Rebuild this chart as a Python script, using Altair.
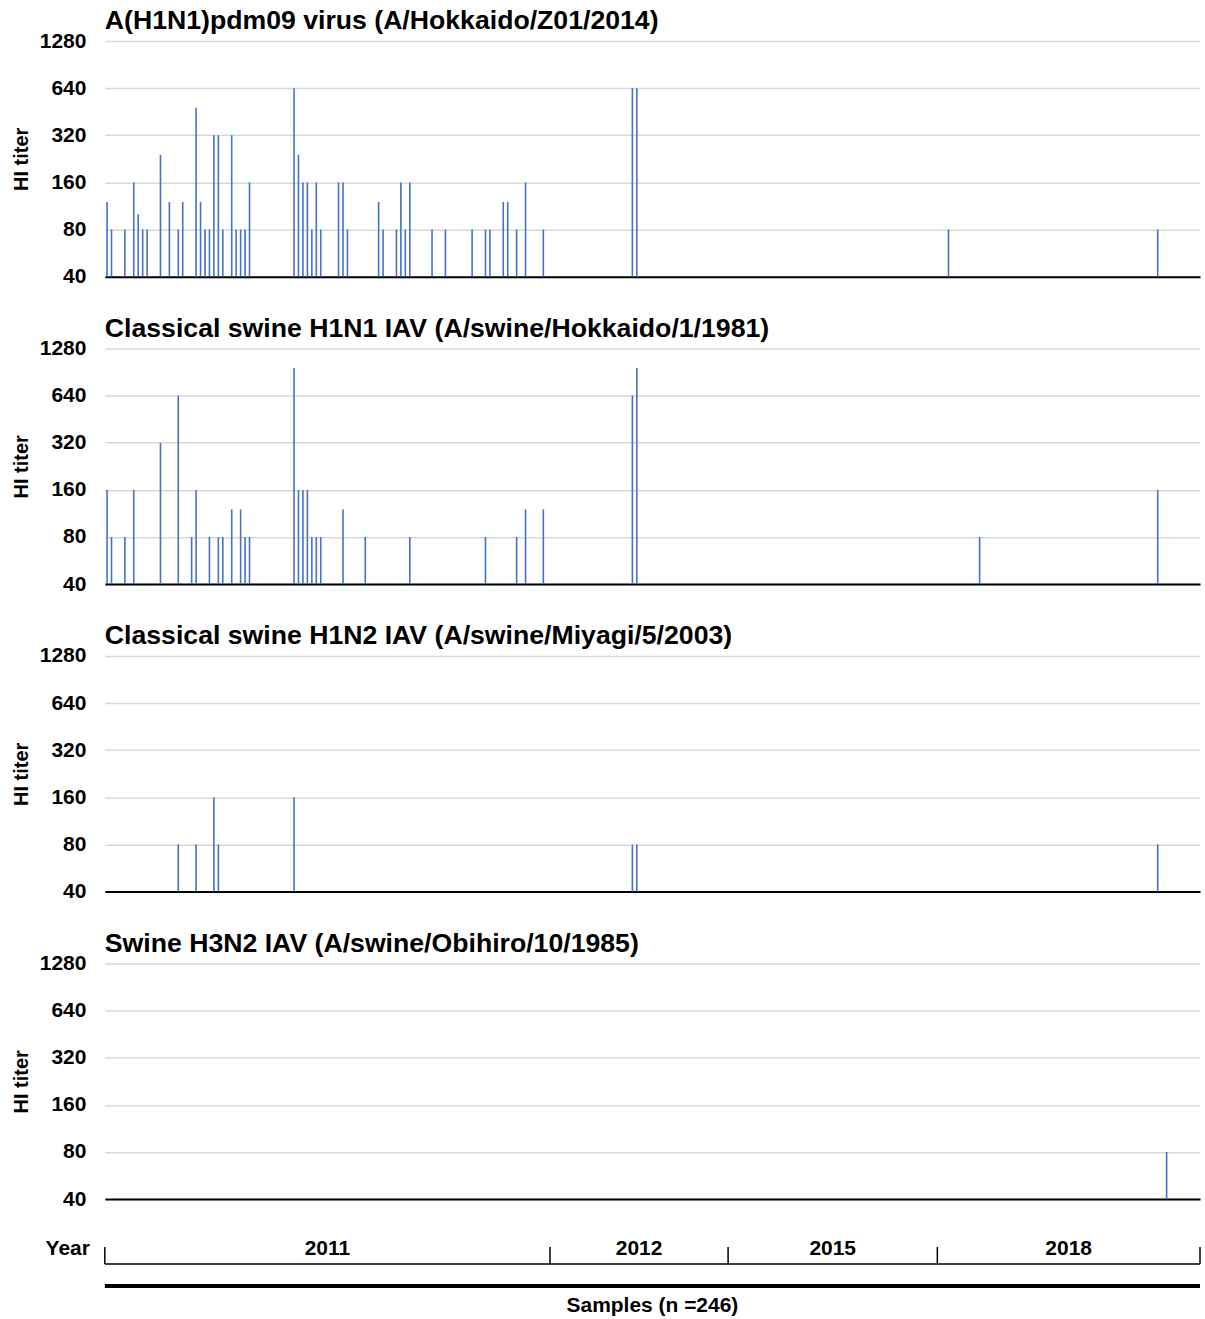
import altair as alt
import pandas as pd

N = 246
FONT = "Liberation Sans"
BLUE = "#4472C4"

titer_ticks = [40, 80, 160, 320, 640, 1280]

panel_titles = [
    "A(H1N1)pdm09 virus (A/Hokkaido/Z01/2014)",
    "Classical swine H1N1 IAV (A/swine/Hokkaido/1/1981)",
    "Classical swine H1N2 IAV (A/swine/Miyagi/5/2003)",
    "Swine H3N2 IAV (A/swine/Obihiro/10/1985)",
]

p1_samples = [1, 2, 5, 7, 8, 9, 10, 13, 15, 17, 18, 21, 22, 23, 24, 25, 26, 27, 29, 30,
              31, 32, 33, 43, 44, 45, 46, 47, 48, 49, 53, 54, 55, 62, 63, 66, 67, 68, 69,
              74, 77, 83, 86, 87, 90, 91, 93, 95, 99, 119, 120, 190, 237]
p1_titers = [120, 80, 80, 160, 100, 80, 80, 240, 120, 80, 120, 480, 120, 80, 80, 320, 320, 80,
             320, 80, 80, 80, 160, 640, 240, 160, 160, 80, 160, 80, 160, 160, 80, 120, 80, 80,
             160, 80, 160, 80, 80, 80, 80, 80, 120, 120, 80, 160, 80, 640, 640, 80, 80]

p2_samples = [1, 2, 5, 7, 13, 17, 20, 21, 24, 26, 27, 29, 31, 32, 33, 43, 44, 45, 46, 47, 48,
              49, 54, 59, 69, 86, 93, 95, 99, 119, 120, 197, 237]
p2_titers = [160, 80, 80, 160, 320, 640, 80, 160, 80, 80, 80, 120, 120, 80, 80, 960, 160, 160,
             160, 80, 80, 80, 120, 80, 80, 80, 80, 120, 120, 640, 960, 80, 160]

p3_samples = [17, 21, 25, 26, 43, 119, 120, 237]
p3_titers = [80, 80, 160, 80, 160, 80, 80, 80]

p4_samples = [239]
p4_titers = [80]

year_labels = ["2011", "2012", "2015", "2018"]
year_bounds = [0.5, 100.5, 140.5, 187.5, 246.5]

W, H = 1097, 236
xscale = alt.Scale(domain=[0.5, N + 0.5], nice=False, zero=False)


def panel(title, samples, titers):
    df = pd.DataFrame({"sample": samples, "titer": titers, "base": [40] * len(samples)})
    return (
        alt.Chart(
            df,
            title=alt.TitleParams(
                title, anchor="start", frame="group", fontSize=26.7, fontWeight="bold",
                font=FONT, color="black", offset=-5,
            ),
        )
        .mark_rule(color=BLUE, strokeWidth=1.6)
        .encode(
            x=alt.X(
                "sample:Q", scale=xscale,
                axis=alt.Axis(labels=False, ticks=False, grid=False, title=None,
                              domainColor="black", domainWidth=2),
            ),
            y=alt.Y(
                "titer:Q",
                scale=alt.Scale(type="log", base=2, domain=[40, 1280], nice=False),
                axis=alt.Axis(
                    values=titer_ticks, title="HI titer", format="d",
                    labelFont=FONT, labelFontSize=21, labelFontWeight="bold", labelColor="black",
                    titleFont=FONT, titleFontSize=20, titleFontWeight="bold", titleColor="black",
                    tickSize=0, labelPadding=19, domain=False, minExtent=59, maxExtent=59,
                    titlePadding=14, gridColor="#d9d9d9", gridWidth=1.5,
                ),
            ),
            y2="base:Q",
        )
        .properties(width=W, height=H)
    )


panels = [
    panel(panel_titles[0], p1_samples, p1_titers),
    panel(panel_titles[1], p2_samples, p2_titers),
    panel(panel_titles[2], p3_samples, p3_titers),
    panel(panel_titles[3], p4_samples, p4_titers),
]

# bottom year axis
bounds_df = pd.DataFrame({"b": year_bounds})
span_df = pd.DataFrame({"start": [year_bounds[0]], "end": [year_bounds[-1]],
                        "mid": [(year_bounds[0] + year_bounds[-1]) / 2],
                        "label": ["Samples (n =246)"], "ylab": ["Year"]})
labels_df = pd.DataFrame({
    "label": year_labels,
    "mid": [(year_bounds[i] + year_bounds[i + 1]) / 2 for i in range(len(year_labels))],
})

xs_none = alt.X("b:Q", scale=xscale, axis=None)
ticks = alt.Chart(bounds_df).mark_rule(color="black", strokeWidth=1.5).encode(
    x=xs_none, y=alt.value(8), y2=alt.value(25))
yline = alt.Chart(span_df).mark_rule(color="black", strokeWidth=1.5).encode(
    x=alt.X("start:Q", scale=xscale, axis=None), x2="end:Q", y=alt.value(25))
ylabels = alt.Chart(labels_df).mark_text(
    font=FONT, fontSize=21, fontWeight="bold", color="black", baseline="middle").encode(
    x=alt.X("mid:Q", scale=xscale, axis=None), y=alt.value(10), text="label:N")
yeartxt = alt.Chart(span_df).mark_text(
    font=FONT, fontSize=21, fontWeight="bold", color="black", baseline="middle", align="right").encode(
    x=alt.value(-15), y=alt.value(10), text="ylab:N")
thick = alt.Chart(span_df).mark_rule(color="black", strokeWidth=4).encode(
    x=alt.X("start:Q", scale=xscale, axis=None), x2="end:Q", y=alt.value(47))
samples_txt = alt.Chart(span_df).mark_text(
    font=FONT, fontSize=21, fontWeight="bold", color="black", baseline="middle").encode(
    x=alt.X("mid:Q", scale=xscale, axis=None), y=alt.value(67), text="label:N")

bottom = alt.layer(ticks, yline, ylabels, yeartxt, thick, samples_txt).properties(width=W, height=72)

chart = (
    alt.vconcat(*panels, bottom, spacing=29)
    .configure(padding={"left": 12, "top": 7, "right": 3, "bottom": 0}, background="white")
    .configure_view(stroke=None)
)

chart.save("out.html", embed_options={"renderer": "svg", "actions": False})
